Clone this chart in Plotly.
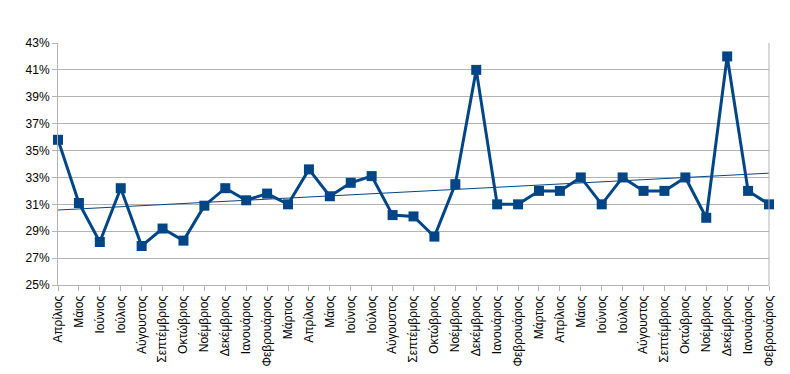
import numpy as np
import plotly.graph_objects as go

months = ["Απρίλιος", "Μάιος", "Ιούνιος", "Ιούλιος", "Αύγουστος", "Σεπτέμβριος",
          "Οκτώβριος", "Νοέμβριος", "Δεκέμβριος", "Ιανουάριος", "Φεβρουάριος", "Μάρτιος",
          "Απρίλιος", "Μάιος", "Ιούνιος", "Ιούλιος", "Αύγουστος", "Σεπτέμβριος",
          "Οκτώβριος", "Νοέμβριος", "Δεκέμβριος", "Ιανουάριος", "Φεβρουάριος", "Μάρτιος",
          "Απρίλιος", "Μάιος", "Ιούνιος", "Ιούλιος", "Αύγουστος", "Σεπτέμβριος",
          "Οκτώβριος", "Νοέμβριος", "Δεκέμβριος", "Ιανουάριος", "Φεβρουάριος"]
values = [35.8, 31.1, 28.2, 32.2, 27.9, 29.2, 28.3, 30.9, 32.2, 31.3, 31.8, 31.0,
          33.6, 31.6, 32.6, 33.1, 30.2, 30.1, 28.6, 32.5, 41.0, 31.0, 31.0, 32.0,
          32.0, 33.0, 31.0, 33.0, 32.0, 32.0, 33.0, 30.0, 42.0, 32.0, 31.0]
y_ticks = [25, 27, 29, 31, 33, 35, 37, 39, 41, 43]

x = np.arange(len(values))
slope, intercept = np.polyfit(x, values, 1)
trend = slope * x + intercept

color = "#004586"
fig = go.Figure()
fig.add_trace(go.Scatter(x=x, y=values, mode="lines+markers",
                         line=dict(color=color, width=3),
                         marker=dict(symbol="square", size=10, color=color),
                         cliponaxis=False, showlegend=False))
fig.add_trace(go.Scatter(x=x, y=trend, mode="lines",
                         line=dict(color=color, width=1),
                         cliponaxis=False, showlegend=False))

fig.update_layout(
    width=782, height=366,
    margin=dict(l=50, r=21, t=35, b=89),
    plot_bgcolor="white", paper_bgcolor="white",
    font=dict(family="Liberation Sans, Arial, sans-serif", size=12, color="black"),
    xaxis=dict(range=[0, 34], tickmode="array", tickvals=list(x), ticktext=months,
               tickangle=-90, showgrid=False, zeroline=False, automargin=False,
               showline=True, linecolor="#b3b3b3", linewidth=1, mirror=False,
               ticks="outside", ticklen=5, tickcolor="#b3b3b3",
               tickfont=dict(size=12)),
    yaxis=dict(range=[25, 43], tickmode="array", tickvals=y_ticks,
               ticktext=[f"{v}%" for v in y_ticks], automargin=False,
               showgrid=True, gridcolor="#b3b3b3", gridwidth=1, zeroline=False,
               showline=True, linecolor="#b3b3b3", linewidth=1,
               ticks="outside", ticklen=5, tickcolor="#b3b3b3",
               tickfont=dict(size=12)),
)
fig.add_shape(type="line", xref="paper", yref="paper", x0=1, x1=1, y0=0, y1=1,
              line=dict(color="#b3b3b3", width=1))

fig.write_html("out.html")
